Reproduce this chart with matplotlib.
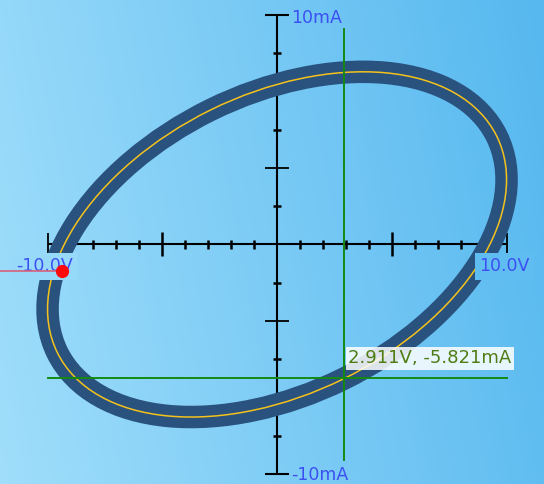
import numpy as np
import matplotlib
matplotlib.use("Agg")
import matplotlib.pyplot as plt
from matplotlib.patches import Ellipse

# XY trace (volts on x, milliamps on y)
trace_center = [0.0, 0.0]
trace_width = 21.34    # full length of the long axis
trace_height = 13.07   # full length of the short axis
trace_angle = 26.2     # degrees

# axes and ticks
x_limits = [-10, 10]
y_limits = [-10, 10]
x_ticks = [-9, -8, -7, -6, -4, -3, -2, -1, 1, 2, 3, 4, 6, 7, 8, 9]
x_major = [-5, 5]
y_ticks = [-8.33, -6.67, -5.0, -1.67, 1.67, 5.0, 6.67, 8.33]
y_major = [-3.33, 3.33]
x_end_labels = ["-10.0V", "10.0V"]
y_end_labels = ["10mA", "-10mA"]

# cursor and trigger marker
cursor_v = 2.911
cursor_ma = -5.821
cursor_label = "2.911V, -5.821mA"
trigger_v = -9.37
trigger_level = -1.15

# view window (screen edges in data units)
view_x = [-12.07, 11.63]
view_y = [-10.44, 10.65]

left_col = np.array([160, 222, 251]) / 255
right_col = np.array([86, 184, 239]) / 255


def bg_color(xd, yd):
    fx = (xd - view_x[0]) / (view_x[1] - view_x[0])
    fy = (yd - view_y[0]) / (view_y[1] - view_y[0])
    u = 0.85 * fx + 0.15 * fy
    return left_col * (1 - u) + right_col * u


fig = plt.figure(figsize=(5.44, 4.84), dpi=100)
ax = fig.add_axes([0, 0, 1, 1])

# background gradient
gx, gy = np.meshgrid(np.linspace(0, 1, 300), np.linspace(1, 0, 300))
u = 0.85 * gx + 0.15 * gy
img = left_col * (1 - u[..., None]) + right_col * u[..., None]
ax.imshow(img, extent=[view_x[0], view_x[1], view_y[0], view_y[1]],
          aspect="auto", zorder=0, interpolation="bilinear")

# axes with ticks
ax.plot(x_limits, [0, 0], color="black", lw=1.5, zorder=2, solid_capstyle="butt")
ax.plot([0, 0], y_limits, color="black", lw=1.5, zorder=2, solid_capstyle="butt")
ax.vlines(x_ticks, -0.2, 0.2, color="black", lw=1.8, zorder=2)
ax.vlines(x_major, -0.52, 0.52, color="black", lw=1.8, zorder=2)
ax.vlines(x_limits, -0.5, 0.5, color="black", lw=1.3, zorder=2)
ax.hlines(y_ticks, -0.18, 0.18, color="black", lw=1.8, zorder=2)
ax.hlines(y_major, -0.52, 0.52, color="black", lw=1.3, zorder=2)
ax.hlines(y_limits, -0.52, 0.52, color="black", lw=1.5, zorder=2)

# trace: thick persistence band with a thin live line on top
ax.add_patch(Ellipse(trace_center, trace_width, trace_height, angle=trace_angle,
                     fill=False, lw=16.2, ec="#29527f", zorder=3))
ax.add_patch(Ellipse(trace_center, trace_width, trace_height, angle=trace_angle,
                     fill=False, lw=1.1, ec="#f5c21c", zorder=4))

# cursor cross
ax.plot([cursor_v, cursor_v], [-9.39, 9.39], color="#138a13", lw=1.4, zorder=5)
ax.plot(x_limits, [cursor_ma, cursor_ma], color="#138a13", lw=1.4, zorder=5)
ax.text(cursor_v + 0.2, cursor_ma + 0.85, cursor_label, fontsize=13,
        color="#4f7d14", ha="left", va="center", zorder=6,
        bbox=dict(boxstyle="square,pad=0.12", fc="white", ec="none", alpha=0.85))

# end labels
lab = dict(fontsize=12.5, color="#3c50f2", va="center", ha="left", zorder=6)
ax.text(0.6, 9.85, y_end_labels[0], **lab)
ax.text(0.6, -10.05, y_end_labels[1], **lab)
for xpos, txt in [(-11.37, x_end_labels[0]), (8.8, x_end_labels[1])]:
    ax.text(xpos, -0.95, txt, bbox=dict(boxstyle="square,pad=0.25",
            fc=bg_color(xpos + 1.2, -0.9), ec="none"), **lab)

# trigger level marker
ax.plot([view_x[0], trigger_v], [trigger_level, trigger_level],
        color="#d8607a", lw=1.2, zorder=7)
ax.plot(trigger_v, trigger_level, "o", color="#ff0a0a", ms=8.5, zorder=8)

ax.set_xlim(view_x)
ax.set_ylim(view_y)
ax.axis("off")

fig.savefig("out.png", dpi=100)
